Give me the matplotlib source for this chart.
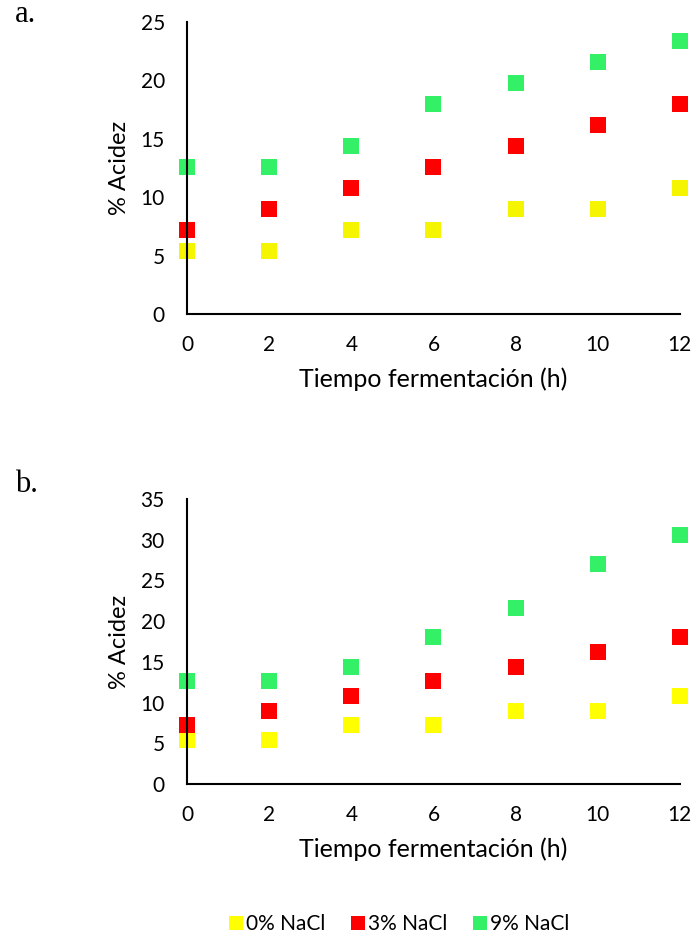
import numpy as np
import matplotlib.pyplot as plt

plt.rcParams['font.family'] = ['Lato', 'DejaVu Sans']

# datos
horas = [0, 2, 4, 6, 8, 10, 12]
series = ['0% NaCl', '3% NaCl', '9% NaCl']

acidez_a_0 = [5.4, 5.4, 7.2, 7.2, 9.0, 9.0, 10.8]
acidez_a_3 = [7.2, 9.0, 10.8, 12.6, 14.4, 16.2, 18.0]
acidez_a_9 = [12.6, 12.6, 14.4, 18.0, 19.8, 21.6, 23.4]

acidez_b_0 = [5.4, 5.4, 7.2, 7.2, 9.0, 9.0, 10.8]
acidez_b_3 = [7.2, 9.0, 10.8, 12.6, 14.4, 16.2, 18.0]
acidez_b_9 = [12.6, 12.6, 14.4, 18.0, 21.6, 27.0, 30.6]

colores_a = ['#F5F500', '#FF0000', '#33F066']
colores_b = ['#FFFF00', '#FF0000', '#33F066']

fig = plt.figure(figsize=(6.93, 9.36), dpi=100)
ax1 = fig.add_axes([0.270, 0.6645, 0.711, 0.312])
ax2 = fig.add_axes([0.270, 0.1624, 0.711, 0.3045])


def panel(ax, datos, colores, ymax):
    for y, c, lab in zip(datos, colores, series):
        ax.plot(horas, y, 's', color=c, markersize=11, markeredgewidth=0,
                clip_on=False, label=lab)
    ax.set_xlim(0, 12)
    ax.set_ylim(0, ymax)
    ax.set_xticks(horas)
    ax.set_yticks(np.arange(0, ymax + 1, 5))
    ax.spines['top'].set_visible(False)
    ax.spines['right'].set_visible(False)
    ax.spines['left'].set_linewidth(1.5)
    ax.spines['bottom'].set_linewidth(1.5)
    ax.tick_params(length=0, labelsize=15, pad=0)
    ax.tick_params(axis='y', pad=16)
    ax.tick_params(axis='x', pad=15)
    ax.set_xlabel('Tiempo fermentación (h)', fontsize=18, labelpad=9)
    ax.set_ylabel('% Acidez', fontsize=17, labelpad=8)


panel(ax1, [acidez_a_0, acidez_a_3, acidez_a_9], colores_a, 25)
panel(ax2, [acidez_b_0, acidez_b_3, acidez_b_9], colores_b, 35)

fig.text(0.022, 0.984, 'a.', fontsize=22, family='Liberation Serif', va='center')
fig.text(0.022, 0.482, 'b.', fontsize=22, family='Liberation Serif', va='center')

h, l = ax2.get_legend_handles_labels()
fig.legend(h, l, loc='center', bbox_to_anchor=(0.576, 0.013), ncol=3,
           frameon=False, fontsize=15, handlelength=0.7, handletextpad=0.15,
           columnspacing=1.2, markerscale=0.95)

fig.savefig('out.png', dpi=100)
